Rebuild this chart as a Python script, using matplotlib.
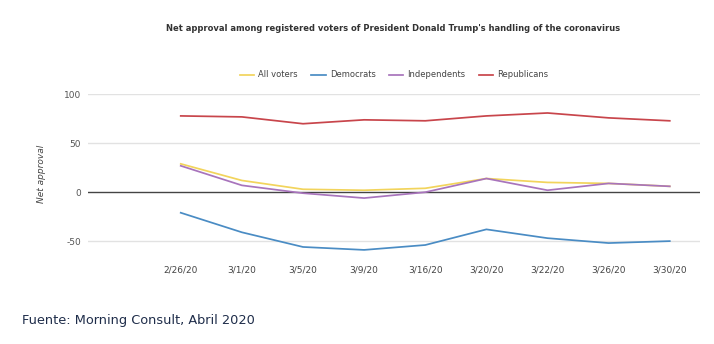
import matplotlib
matplotlib.use("Agg")
import matplotlib.pyplot as plt

dates = ["2/26/20", "3/1/20", "3/5/20", "3/9/20", "3/16/20", "3/20/20", "3/22/20", "3/26/20", "3/30/20"]
all_voters = [29, 12, 3, 2, 4, 14, 10, 9, 6]
democrats = [-21, -41, -56, -59, -54, -38, -47, -52, -50]
independents = [27, 7, -1, -6, 0, 14, 2, 9, 6]
republicans = [78, 77, 70, 74, 73, 78, 81, 76, 73]

series = [
    ("All voters", all_voters, "#f2d45c"),
    ("Democrats", democrats, "#4a8cc4"),
    ("Independents", independents, "#a874bc"),
    ("Republicans", republicans, "#c8454b"),
]

fig = plt.figure(figsize=(7.14, 3.44), dpi=100)
ax = fig.add_axes([0.123, 0.265, 0.857, 0.462])

x = list(range(len(dates)))
for name, vals, col in series:
    ax.plot(x, vals, color=col, lw=1.25, label=name)

# gridlines and zero line
for v in [100, 50, -50]:
    ax.axhline(v, color="#e2e2e2", lw=1, zorder=0)
ax.axhline(0, color="#444444", lw=1, zorder=0)

ax.set_xlim(-1.52, 8.49)
ax.set_ylim(-62, 100.5)
ax.set_xticks(x)
ax.set_xticklabels(dates, fontsize=6.5, color="#444444")
ax.set_yticks([100, 50, 0, -50])
ax.set_yticklabels(["100", "50", "0", "-50"], fontsize=6.5, color="#555555")
ax.tick_params(length=0, axis="both")
ax.tick_params(axis="x", pad=9)
ax.tick_params(axis="y", pad=5)
for s in ax.spines.values():
    s.set_visible(False)

ax.set_ylabel("Net approval", fontsize=6.5, style="italic", color="#444444", labelpad=13)

fig.text(0.551, 0.918, "Net approval among registered voters of President Donald Trump's handling of the coronavirus",
         ha="center", va="center", fontsize=6, fontweight="bold", color="#333333")

fig.legend(loc="center", bbox_to_anchor=(0.552, 0.782), ncol=4, frameon=False,
           fontsize=6, handlelength=1.7, columnspacing=1.6, handletextpad=0.5,
           labelcolor="#444444")

fig.text(0.031, 0.067, "Fuente: Morning Consult, Abril 2020", fontsize=9.3, color="#1f2d4a",
         ha="left", va="center")

fig.savefig("out.png", dpi=100)
